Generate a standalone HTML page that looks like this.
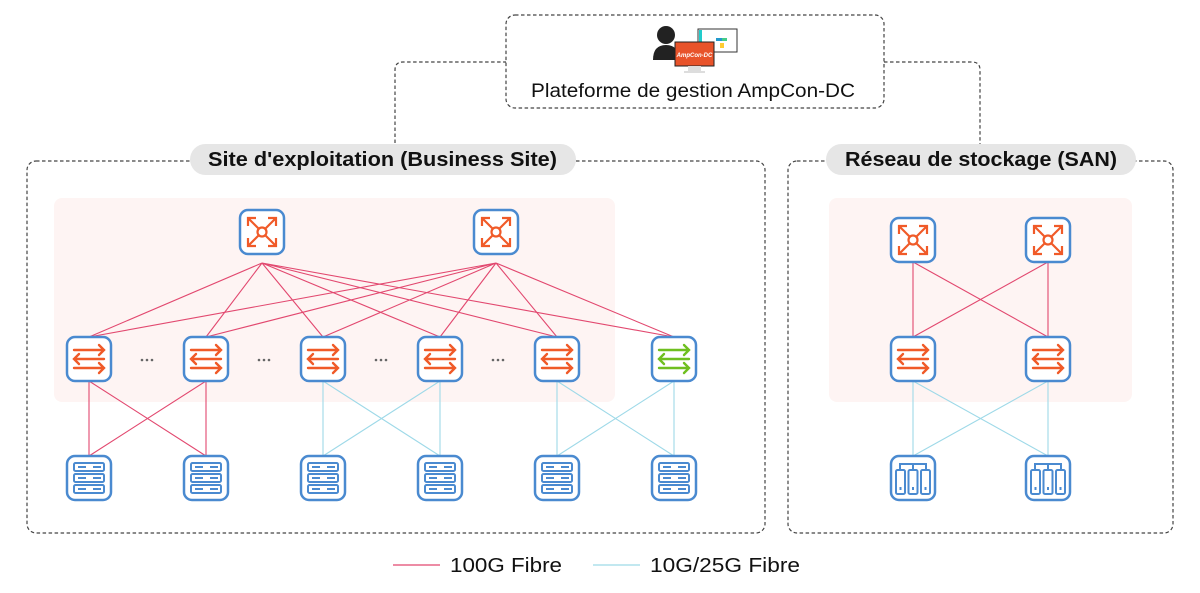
<!DOCTYPE html>
<html><head><meta charset="utf-8"><style>
html,body{margin:0;padding:0;background:#fff;}
svg{display:block;font-family:"Liberation Sans",sans-serif;}
</style></head><body>
<svg width="1200" height="593" viewBox="0 0 1200 593" xmlns="http://www.w3.org/2000/svg">
<defs>
<g id="box"><rect x="-22" y="-22" width="44" height="44" rx="8" fill="#fff" stroke="#4a8ad0" stroke-width="2.5"/></g>
<g id="spine"><use href="#box"/>
<g stroke="#f05a28" stroke-width="2.2" fill="none">
<circle cx="0" cy="0" r="4.5"/>
<path d="M-3,-3 L-14,-14 M-14,-6 V-14 H-6 M3,-3 L14,-14 M6,-14 H14 V-6 M-3,3 L-14,14 M-14,6 V14 H-6 M3,3 L14,14 M14,6 V14 H6"/></g></g>
<g id="leaf"><use href="#box"/>
<g stroke="#f05a28" stroke-width="2.4" fill="none" stroke-linecap="round">
<path d="M-15,-9 H15 M10,-14 L15,-9 L10,-4 M15,0 H-15 M-10,-5 L-15,0 L-10,5 M-15,9 H15 M10,4 L15,9 L10,14"/></g></g>
<g id="leafg"><use href="#box"/>
<g stroke="#6fbf1f" stroke-width="2.4" fill="none" stroke-linecap="round">
<path d="M-15,-9 H15 M10,-14 L15,-9 L10,-4 M15,0 H-15 M-10,-5 L-15,0 L-10,5 M-15,9 H15 M10,4 L15,9 L10,14"/></g></g>
<g id="srv"><use href="#box"/>
<g stroke="#4a8ad0" stroke-width="2" fill="none">
<rect x="-15" y="-15" width="30" height="8" rx="1.5"/><rect x="-15" y="-4" width="30" height="8" rx="1.5"/><rect x="-15" y="7" width="30" height="8" rx="1.5"/>
<path d="M-11,-11 H-3 M-11,0 H-3 M-11,11 H-3"/></g>
<g fill="#4a8ad0"><rect x="4" y="-12" width="8" height="2"/><rect x="4" y="-1" width="8" height="2"/><rect x="4" y="10" width="8" height="2"/></g></g>
<g id="stor"><use href="#box"/>
<g stroke="#4a8ad0" stroke-width="2" fill="none">
<path d="M-13,-8 V-14 H13 V-8 M0,-14 V-8"/>
<rect x="-17" y="-8" width="9" height="24" rx="1.5"/><rect x="-4.5" y="-8" width="9" height="24" rx="1.5"/><rect x="8" y="-8" width="9" height="24" rx="1.5"/></g>
<g fill="#4a8ad0"><rect x="-13.5" y="9" width="2" height="3"/><rect x="-1" y="9" width="2" height="3"/><rect x="11.5" y="9" width="2" height="3"/></g></g>
</defs>

<g fill="none" stroke="#444" stroke-width="1.2" stroke-dasharray="3.5,2.5">
<rect x="506" y="15" width="378" height="93" rx="9"/>
<rect x="27" y="161" width="738" height="372" rx="9"/>
<rect x="788" y="161" width="385" height="372" rx="9"/>
<path d="M395,161 V70 Q395,62 403,62 H506"/>
<path d="M884,62 H972 Q980,62 980,70 V161"/>
</g>

<rect x="54" y="198" width="561" height="204" rx="8" fill="#fef4f3"/>
<rect x="829" y="198" width="303" height="204" rx="8" fill="#fef4f3"/>

<rect x="190" y="144" width="386" height="31" rx="15.5" fill="#e6e6e6"/>
<text x="208" y="166" font-size="20" font-weight="bold" textLength="349" lengthAdjust="spacingAndGlyphs" fill="#111">Site d'exploitation (Business Site)</text>
<rect x="826" y="144" width="310" height="31" rx="15.5" fill="#e6e6e6"/>
<text x="845" y="166" font-size="20" font-weight="bold" textLength="272" lengthAdjust="spacingAndGlyphs" fill="#111">Réseau de stockage (SAN)</text>

<g>
<circle cx="666" cy="35" r="9" fill="#222"/>
<path d="M653,60 Q653,45 666,45 Q679,45 679,60 Z" fill="#222"/>
<rect x="698" y="29" width="39" height="23" fill="#fff" stroke="#333" stroke-width="1"/>
<rect x="699" y="30" width="3" height="21" fill="#2cc"/>
<rect x="716" y="38" width="6" height="3" fill="#29c"/><rect x="722" y="38" width="5" height="3" fill="#4c8"/>
<rect x="720" y="43" width="4" height="5" fill="#fc3"/>
<rect x="675" y="42" width="39" height="24" fill="#e8532a" stroke="#222" stroke-width="1"/>
<text x="694.5" y="57" font-size="6" font-style="italic" font-weight="bold" fill="#fff" text-anchor="middle">AmpCon-DC</text>
<rect x="688" y="66" width="13" height="5" fill="#ddd"/><rect x="684" y="71" width="21" height="2" fill="#ddd"/>
</g>
<text x="531" y="97" font-size="19" textLength="324" lengthAdjust="spacingAndGlyphs" fill="#111">Plateforme de gestion AmpCon-DC</text>

<g stroke="#e2486f" stroke-width="1.1" fill="none">
<path d="M262,263 L89,337 M262,263 L206,337 M262,263 L323,337 M262,263 L440,337 M262,263 L557,337 M262,263 L674,337"/>
<path d="M496,263 L89,337 M496,263 L206,337 M496,263 L323,337 M496,263 L440,337 M496,263 L557,337 M496,263 L674,337"/>
<path d="M89,381 V456 M206,381 V456 M89,381 L206,456 M206,381 L89,456"/>
<path d="M913,262 V337 M1048,262 V337 M913,262 L1048,337 M1048,262 L913,337"/>
</g>
<g stroke="#9ed9e8" stroke-width="1.1" fill="none">
<path d="M323,381 V456 M440,381 V456 M323,381 L440,456 M440,381 L323,456"/>
<path d="M557,381 V456 M674,381 V456 M557,381 L674,456 M674,381 L557,456"/>
<path d="M913,381 V456 M1048,381 V456 M913,381 L1048,456 M1048,381 L913,456"/>
</g>

<use href="#spine" x="262" y="232"/><use href="#spine" x="496" y="232"/>
<use href="#leaf" x="89" y="359"/><use href="#leaf" x="206" y="359"/><use href="#leaf" x="323" y="359"/>
<use href="#leaf" x="440" y="359"/><use href="#leaf" x="557" y="359"/><use href="#leafg" x="674" y="359"/>
<use href="#srv" x="89" y="478"/><use href="#srv" x="206" y="478"/><use href="#srv" x="323" y="478"/>
<use href="#srv" x="440" y="478"/><use href="#srv" x="557" y="478"/><use href="#srv" x="674" y="478"/>
<use href="#spine" x="913" y="240"/><use href="#spine" x="1048" y="240"/>
<use href="#leaf" x="913" y="359"/><use href="#leaf" x="1048" y="359"/>
<use href="#stor" x="913" y="478"/><use href="#stor" x="1048" y="478"/>

<g fill="#666">
<circle cx="142" cy="360" r="1.3"/><circle cx="147" cy="360" r="1.3"/><circle cx="152" cy="360" r="1.3"/>
<circle cx="259" cy="360" r="1.3"/><circle cx="264" cy="360" r="1.3"/><circle cx="269" cy="360" r="1.3"/>
<circle cx="376" cy="360" r="1.3"/><circle cx="381" cy="360" r="1.3"/><circle cx="386" cy="360" r="1.3"/>
<circle cx="493" cy="360" r="1.3"/><circle cx="498" cy="360" r="1.3"/><circle cx="503" cy="360" r="1.3"/>
</g>

<line x1="393" y1="565" x2="440" y2="565" stroke="#e2486f" stroke-width="1.2"/>
<text x="450" y="572" font-size="20" textLength="112" lengthAdjust="spacingAndGlyphs" fill="#111">100G Fibre</text>
<line x1="593" y1="565" x2="640" y2="565" stroke="#9ed9e8" stroke-width="1.2"/>
<text x="650" y="572" font-size="20" textLength="150" lengthAdjust="spacingAndGlyphs" fill="#111">10G/25G Fibre</text>
</svg>
</body></html>
